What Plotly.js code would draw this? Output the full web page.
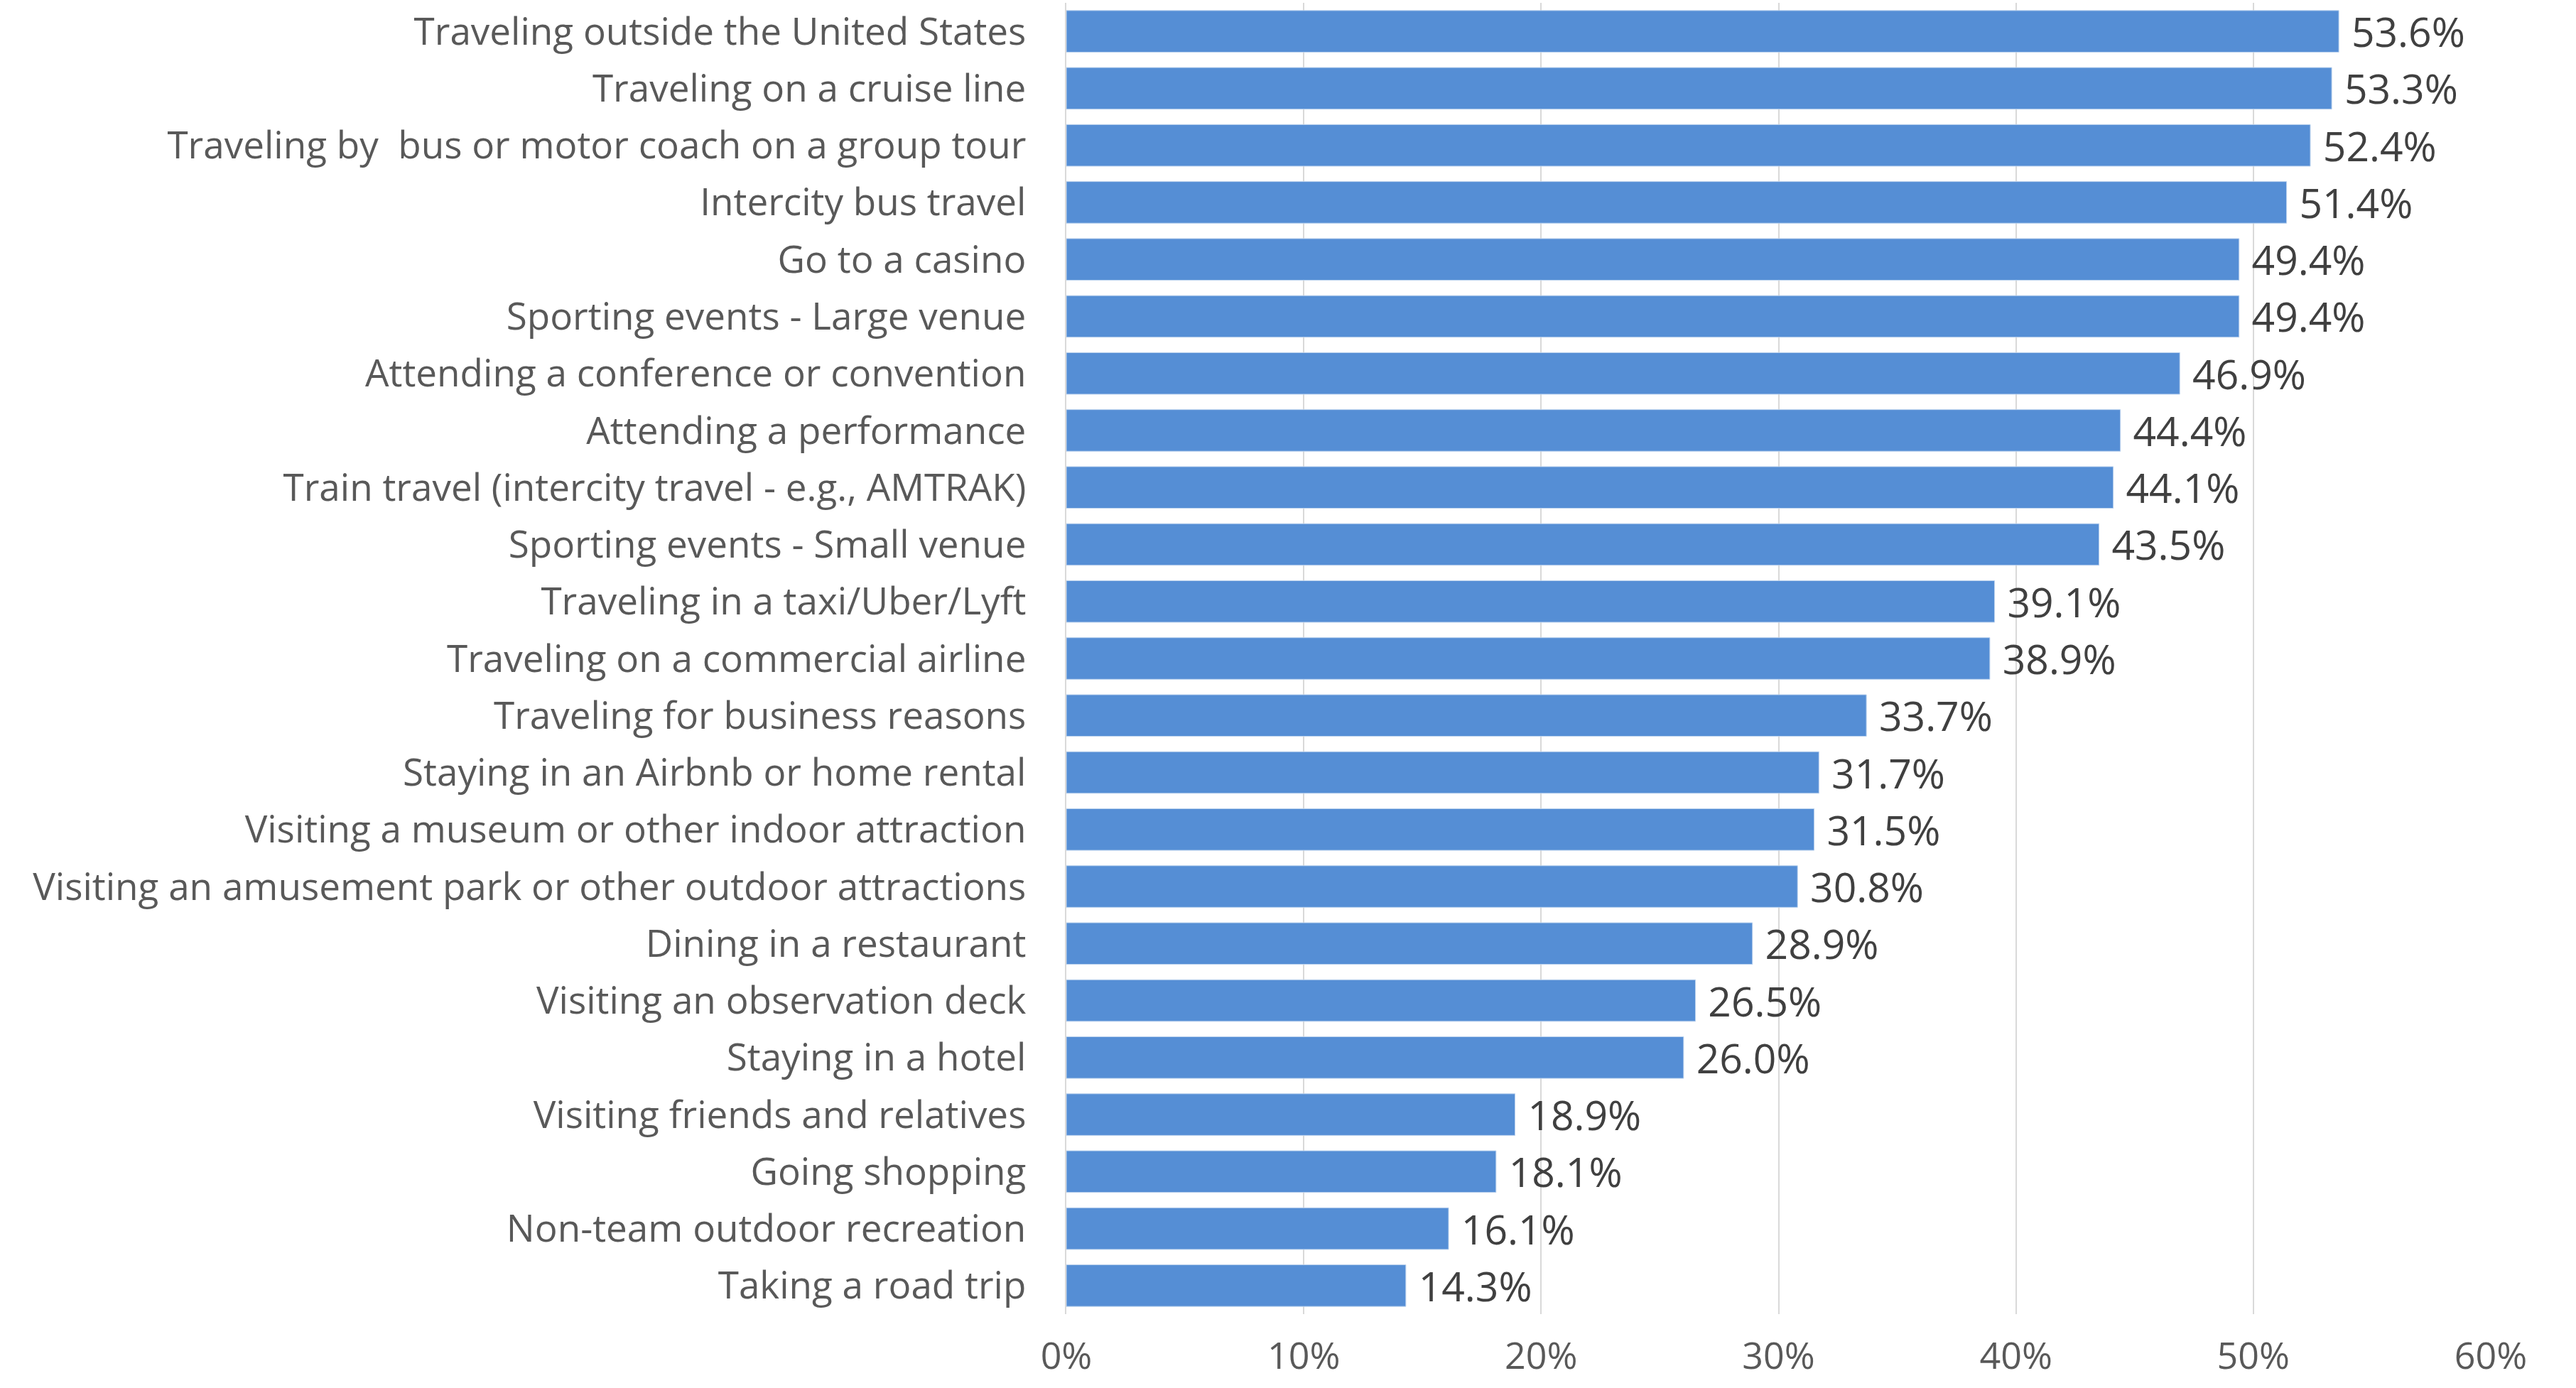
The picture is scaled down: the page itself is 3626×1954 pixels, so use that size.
<!DOCTYPE html>
<html>
<head>
<meta charset="utf-8">
<script src="https://cdn.plot.ly/plotly-3.0.1.min.js"></script>
<style>html,body{margin:0;padding:0;background:#fff;}#chart{width:3626px;height:1954px;}</style>
</head>
<body>
<div id="chart"></div>
<script>
const categories = [
  "Traveling outside the United States",
  "Traveling on a cruise line",
  "Traveling by  bus or motor coach on a group tour",
  "Intercity bus travel",
  "Go to a casino",
  "Sporting events - Large venue",
  "Attending a conference or convention",
  "Attending a performance",
  "Train travel (intercity travel - e.g., AMTRAK)",
  "Sporting events - Small venue",
  "Traveling in a taxi/Uber/Lyft",
  "Traveling on a commercial airline",
  "Traveling for business reasons",
  "Staying in an Airbnb or home rental",
  "Visiting a museum or other indoor attraction",
  "Visiting an amusement park or other outdoor attractions",
  "Dining in a restaurant",
  "Visiting an observation deck",
  "Staying in a hotel",
  "Visiting friends and relatives",
  "Going shopping",
  "Non-team outdoor recreation",
  "Taking a road trip"
];
const values = [53.6, 53.3, 52.4, 51.4, 49.4, 49.4, 46.9, 44.4, 44.1, 43.5, 39.1, 38.9, 33.7, 31.7, 31.5, 30.8, 28.9, 26.5, 26.0, 18.9, 18.1, 16.1, 14.3];
const tickValues = [0, 10, 20, 30, 40, 50, 60];
const tickLabels = ["0%", "10%", "20%", "30%", "40%", "50%", "60%"];

const fontFam = '"Century Gothic", "Open Sans", sans-serif';

const trace = {
  type: 'bar',
  orientation: 'h',
  y: categories,
  x: values,
  marker: {color: '#558ED5', line: {color: '#BDD3EE', width: 1}},
  text: values.map(v => ' ' + v.toFixed(1) + '%'),
  textposition: 'outside',
  constraintext: 'none',
  cliponaxis: false,
  textfont: {family: fontFam, size: 57, color: '#404040'},
  hoverinfo: 'none'
};

const layout = {
  width: 3626,
  height: 1954,
  margin: {l: 1501, r: 120, t: 4, b: 104, pad: 0},
  paper_bgcolor: '#ffffff',
  plot_bgcolor: '#ffffff',
  showlegend: false,
  bargap: 0.27,
  xaxis: {
    range: [0, 60],
    tickvals: tickValues,
    ticktext: tickLabels,
    showgrid: true,
    gridcolor: '#D9D9D9',
    gridwidth: 2,
    zeroline: false,
    showline: false,
    ticks: 'outside',
    ticklen: 14,
    tickcolor: 'rgba(0,0,0,0)',
    tickfont: {family: fontFam, size: 52, color: '#595959'}
  },
  yaxis: {
    type: 'category',
    autorange: 'reversed',
    showgrid: false,
    zeroline: false,
    showline: true,
    linecolor: '#D9D9D9',
    linewidth: 2,
    ticks: 'outside',
    ticklen: 44,
    tickcolor: 'rgba(0,0,0,0)',
    tickfont: {family: fontFam, size: 53, color: '#595959'}
  }
};

Plotly.newPlot('chart', [trace], layout, {staticPlot: true, displayModeBar: false});
</script>
</body>
</html>
